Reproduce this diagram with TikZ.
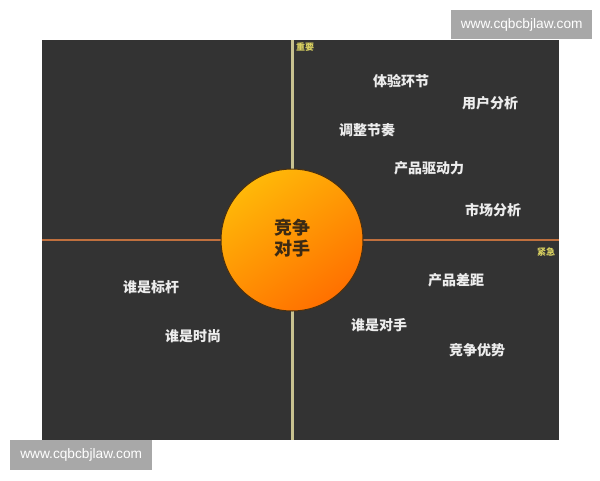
\documentclass[tikz,border=0pt]{standalone}
\usepackage{fontspec}
\setmainfont{Liberation Sans}
\newfontfamily\cjk{Noto Sans CJK SC}
\definecolor{bgdark}{HTML}{333333}
\definecolor{wmgray}{HTML}{A8A8A8}
\definecolor{vline}{HTML}{C8C290}
\definecolor{hline}{HTML}{C0703E}
\definecolor{tag}{HTML}{D8D060}
\definecolor{ballA}{HTML}{FFB808}
\definecolor{ballB}{HTML}{FF7000}
\definecolor{ballEdge}{HTML}{4A3010}
\definecolor{balltext}{HTML}{3C2A14}
\definecolor{lbl}{HTML}{EDEDED}
\begin{document}
\begin{tikzpicture}[x=1pt,y=-1pt,
  item/.style={text=lbl,font=\cjk\bfseries\fontsize{14}{16}\selectfont,inner sep=0pt},
  tagtxt/.style={text=tag,font=\cjk\bfseries\fontsize{9}{10}\selectfont,inner sep=0pt},
  wm/.style={fill=wmgray,text=white,font=\fontsize{13.7}{15}\selectfont,inner sep=0pt,anchor=north west}]
\useasboundingbox (0,0) rectangle (600,480);
\fill[white] (0,0) rectangle (600,480);
\fill[bgdark] (42,40) rectangle (559,440);
% axes
\coordinate (vt) at (292.5,40);
\coordinate (vb) at (292.5,440);
\coordinate (hl) at (42,240);
\coordinate (hr) at (559,240);
\draw[vline,line width=2.2pt] (vt) -- (vb);
\draw[hline,line width=2.2pt] (hl) -- (hr);
% ball
\shade[top color=ballA,bottom color=ballB,shading angle=35,draw=ballEdge,line width=1pt]
  (292,240) circle (71);
\node[text=balltext,font=\cjk\bfseries\fontsize{18}{20.5}\selectfont,align=center,inner sep=0pt] (ball) at (292,238) {竞争\\对手};
% axis tags
\node[tagtxt] (imp) at (305,47) {重要};
\node[tagtxt] (urg) at (546,252) {紧急};
% items
\node[item] (a1) at (401,81) {体验环节};
\node[item] (a2) at (490,103) {用户分析};
\node[item] (a3) at (367,130) {调整节奏};
\node[item] (a4) at (429,168) {产品驱动力};
\node[item] (a5) at (493,210) {市场分析};
\node[item] (b1) at (456,280) {产品差距};
\node[item] (b2) at (379,325) {谁是对手};
\node[item] (b3) at (477,350) {竞争优势};
\node[item] (c1) at (151,287) {谁是标杆};
\node[item] (c2) at (193,336) {谁是时尚};
% watermarks
\node[wm,minimum width=141pt,minimum height=29pt] (w1) at (451,10) {www.cqbcbjlaw.com};
\node[wm,minimum width=142pt,minimum height=30pt] (w2) at (10,440) {www.cqbcbjlaw.com};
\end{tikzpicture}
\end{document}
